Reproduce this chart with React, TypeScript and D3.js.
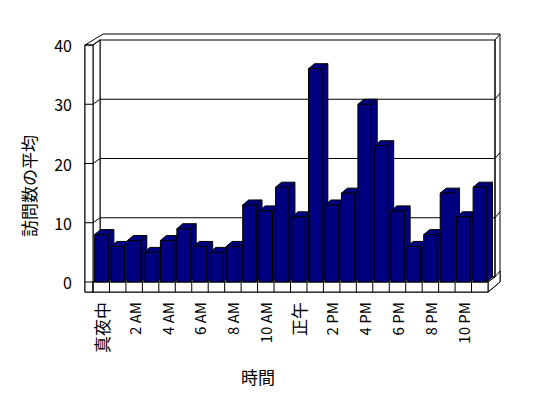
import React from "react";
import * as d3 from "d3";

const hours: string[] = [
  "真夜中", "1 AM", "2 AM", "3 AM", "4 AM", "5 AM", "6 AM", "7 AM", "8 AM", "9 AM", "10 AM", "11 AM",
  "正午", "1 PM", "2 PM", "3 PM", "4 PM", "5 PM", "6 PM", "7 PM", "8 PM", "9 PM", "10 PM", "11 PM",
];
const visits: number[] = [8, 6, 7, 5, 7, 9, 6, 5, 6, 13, 12, 16, 11, 36, 13, 15, 30, 23, 12, 6, 8, 15, 11, 16];
const yTicks: number[] = [0, 10, 20, 30, 40];

const width = 548;
const height = 398;

// front plane of the plot
const left = 93;
const right = 488;
const bottom = 282;
const top = 45;

// depth of the walls, of the wall slab, and of each bar
const wx = 7, wy = -5;
const tx = 5, ty = -6;
const bx = 6, by = -5;

const font = "'Noto Sans CJK JP', 'Liberation Sans', sans-serif";
const navy = "#000080";

const x = d3.scaleBand<number>()
  .domain(d3.range(hours.length))
  .range([left, right])
  .paddingInner(0.19)
  .paddingOuter(0.095);

const y = d3.scaleLinear().domain([0, 40]).range([bottom, top]);

const pts = (p: [number, number][]) => p.map((d) => d.join(",")).join(" ");

const App = () => {
  const line = { stroke: "#000", strokeWidth: 1, fill: "none" };
  const face = { stroke: "#000", strokeWidth: 1, fill: "#fff" };
  const backTop = y(40) + wy;
  const backBottom = y(0) + wy;
  return (
    <svg width={width} height={height} style={{ position: "absolute", left: 0, top: 0 }}>
      <rect width={width} height={height} fill="#fff" />
      {/* wall slab outline (thickness behind the back wall) */}
      <polygon
        points={pts([
          [85, y(40)],
          [left + wx + tx - 2, backTop + ty],
          [right + wx + tx, backTop + ty],
          [right + wx + tx, bottom + 10 + wy + ty + 1],
          [right, bottom + 10],
          [85, bottom + 10],
        ])}
        {...face}
      />
      {/* back wall face */}
      <rect x={left + wx} y={backTop} width={right - left} height={backBottom - backTop} {...face} />
      {/* left wall inner face */}
      <polygon points={pts([[left, y(40)], [left + wx, backTop], [left + wx, backBottom], [left, bottom]])} {...face} />
      {/* top edge of left wall, right edge of back wall */}
      <line x1={left} y1={y(40)} x2={left + wx} y2={backTop} {...line} />
      <line x1={right + wx} y1={backTop} x2={right + wx + tx} y2={backTop + ty} {...line} />
      <line x1={right + wx} y1={backTop} x2={right + wx} y2={backBottom} {...line} />
      {/* gridlines */}
      {yTicks.filter((t) => t > 0 && t < 40).map((t) => (
        <polyline
          key={t}
          points={pts([
            [left, y(t)],
            [left + wx, y(t) + wy],
            [right + wx, y(t) + wy],
            [right + wx + tx, y(t) + wy + ty],
          ])}
          {...line}
        />
      ))}
      {/* left wall front face with ticks */}
      <rect x={85} y={y(40)} width={left - 85} height={bottom + 10 - y(40)} {...face} />
      {yTicks.map((t) => (
        <line key={t} x1={85} x2={left} y1={y(t)} y2={y(t)} {...line} />
      ))}
      {/* floor */}
      <polygon points={pts([[left, bottom], [right, bottom], [right + wx, bottom + wy], [left + wx, bottom + wy]])} {...face} />
      <polygon
        points={pts([
          [right, bottom],
          [right + wx, bottom + wy],
          [right + wx + tx, bottom + wy + ty],
          [right + wx + tx, bottom + 10 + wy + ty + 1],
          [right, bottom + 10],
        ])}
        {...face}
      />
      <rect x={left} y={bottom} width={right - left} height={10} {...face} />
      {hours.map((_, i) => (
        <line key={i} x1={left + x.step() * i} x2={left + x.step() * i} y1={bottom} y2={bottom + 10} {...line} />
      ))}
      {/* bars */}
      {visits.map((v, i) => {
        const x0 = x(i) as number;
        const x1 = x0 + x.bandwidth();
        const yt = y(v);
        return (
          <g key={i} fill={navy} stroke="#000" strokeWidth={1} strokeLinejoin="round">
            <polygon points={pts([[x1, bottom], [x1 + bx, bottom + by], [x1 + bx, yt + by], [x1, yt]])} />
            <polygon points={pts([[x0, yt], [x1, yt], [x1 + bx, yt + by], [x0 + bx, yt + by]])} />
            <rect x={x0} y={yt} width={x.bandwidth()} height={bottom - yt} />
          </g>
        );
      })}
      {/* y tick labels */}
      {yTicks.map((t) => (
        <text key={t} x={72} y={y(t)} textAnchor="end" dominantBaseline="central" fontFamily={font} fontSize={16}>
          {t}
        </text>
      ))}
      {/* x tick labels */}
      {hours.map((h, i) =>
        i % 2 === 0 ? (
          <text
            key={h}
            transform={`translate(${(x(i) as number) + x.bandwidth() / 2},${302}) rotate(-90)`}
            textAnchor="end"
            dominantBaseline="central"
            fontFamily={font}
            fontSize={/[A-Z]/.test(h) ? 15 : 17}
          >
            {h}
          </text>
        ) : null
      )}
      <text x={258} y={376} textAnchor="middle" dominantBaseline="central" fontFamily={font} fontSize={17}>
        時間
      </text>
      <text
        transform="translate(28,186) rotate(-90)"
        textAnchor="middle"
        dominantBaseline="central"
        fontFamily={font}
        fontSize={17}
      >
        訪問数の平均
      </text>
    </svg>
  );
};

export default App;
